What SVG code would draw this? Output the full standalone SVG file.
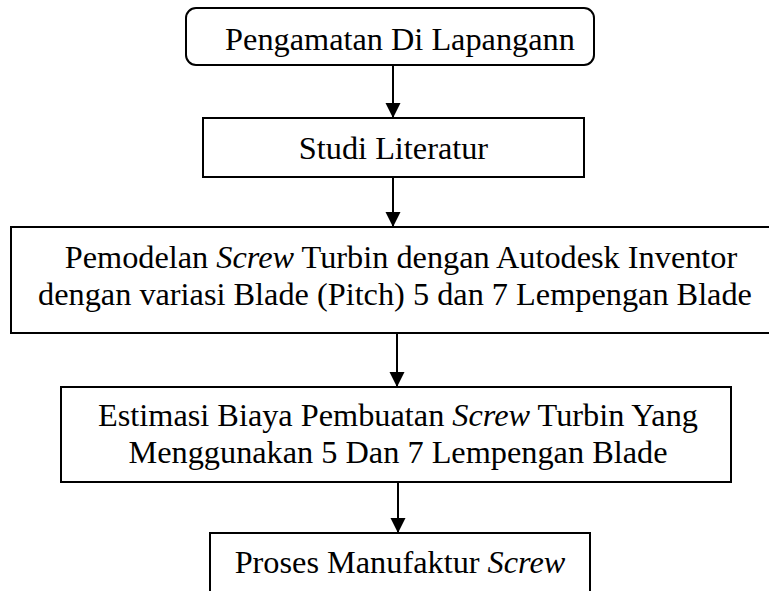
<svg xmlns="http://www.w3.org/2000/svg" width="769" height="591" viewBox="0 0 769 591">
<style>
.box{fill:#fff;stroke:#000;stroke-width:2}
.t{font-family:"Liberation Serif","Times New Roman",serif;font-size:32.3px;fill:#000;text-anchor:middle}
.i{font-style:italic}
.c{stroke:#000;stroke-width:2;fill:none}
</style>
<defs>
<marker id="ah" markerUnits="userSpaceOnUse" markerWidth="16" markerHeight="16" refX="15" refY="8" orient="auto">
<path d="M0,0.5 L15,8 L0,15.5 Z" fill="#000"/>
</marker>
</defs>
<rect width="769" height="591" fill="#fff"/>
<g id="connectors">
<line class="c" x1="393" y1="65" x2="393" y2="118" marker-end="url(#ah)"/>
<line class="c" x1="393" y1="177" x2="393" y2="227" marker-end="url(#ah)"/>
<line class="c" x1="397" y1="333" x2="397" y2="387" marker-end="url(#ah)"/>
<line class="c" x1="398" y1="482" x2="398" y2="533" marker-end="url(#ah)"/>
</g>
<g id="n1">
<rect class="box" x="186" y="8" width="408" height="57" rx="10"/>
<text class="t" x="400" y="50">Pengamatan Di Lapangann</text>
</g>
<g id="n2">
<rect class="box" x="203" y="118" width="381" height="59"/>
<text class="t" x="393.5" y="159">Studi Literatur</text>
</g>
<g id="n3">
<rect class="box" x="11" y="227" width="770" height="106"/>
<text class="t" x="401" y="268">Pemodelan <tspan class="i">Screw</tspan> Turbin dengan Autodesk Inventor</text>
<text class="t" x="395" y="305">dengan variasi Blade (Pitch) 5 dan 7 Lempengan Blade</text>
</g>
<g id="n4">
<rect class="box" x="61" y="387" width="670" height="95"/>
<text class="t" x="398" y="426">Estimasi Biaya Pembuatan <tspan class="i">Screw</tspan> Turbin Yang</text>
<text class="t" x="398" y="463">Menggunakan 5 Dan 7 Lempengan Blade</text>
</g>
<g id="n5">
<rect class="box" x="210" y="533" width="380" height="70"/>
<text class="t" x="400" y="573">Proses Manufaktur <tspan class="i">Screw</tspan></text>
</g>
</svg>
